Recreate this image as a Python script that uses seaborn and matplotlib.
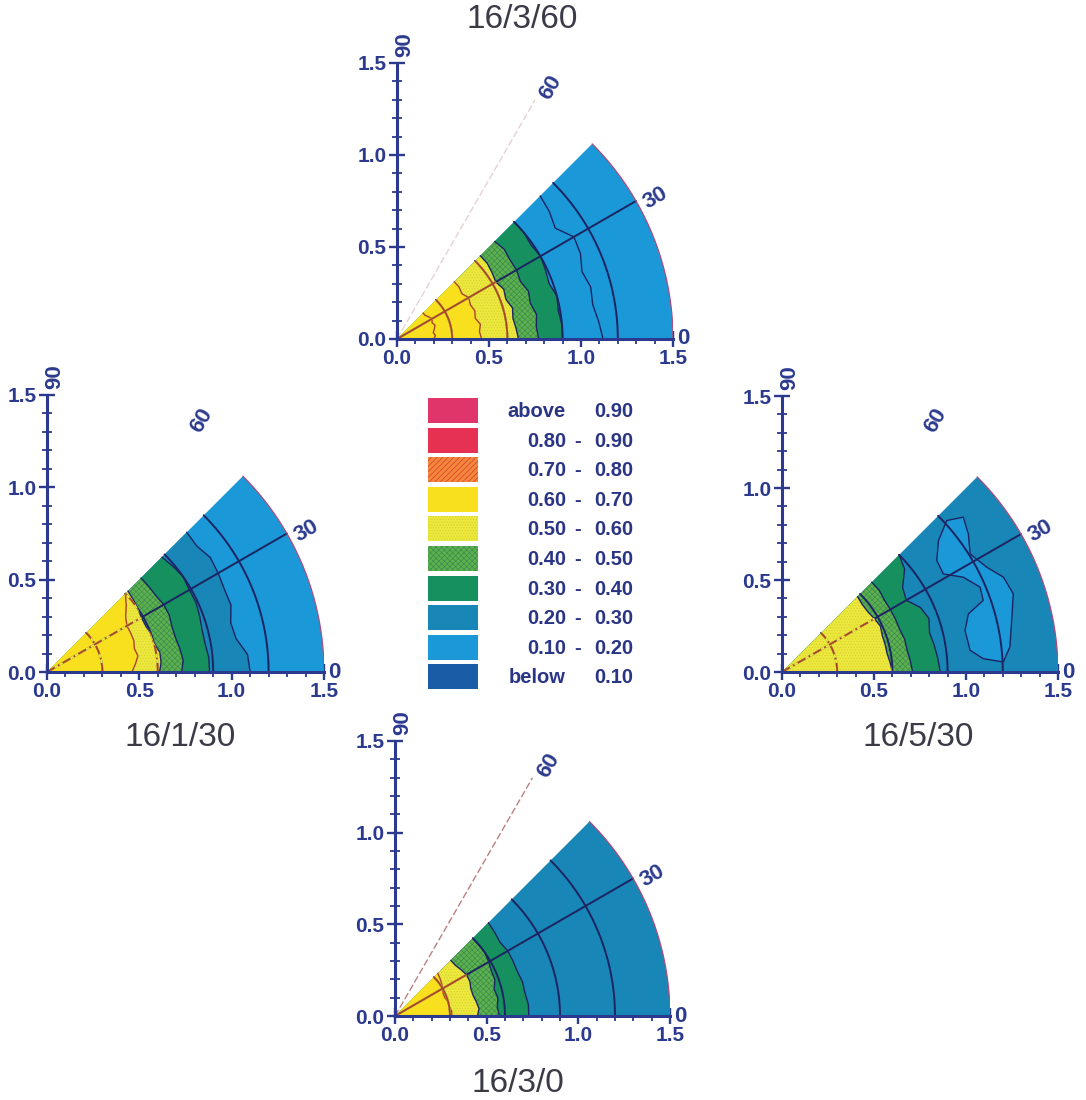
import numpy as np
import matplotlib
matplotlib.use("Agg")
import matplotlib.pyplot as plt
from matplotlib.patches import Polygon, Rectangle
from matplotlib.ticker import MultipleLocator
import seaborn as sns

sns.set_theme(style="white")
plt.rcParams["font.family"] = ["Liberation Sans", "DejaVu Sans"]
plt.rcParams["hatch.linewidth"] = 0.5

NAVY = "#2b3a8e"
INK = "#1c2462"
WARM = "#a8432c"
R_MAX = 1.5

# ---- contour classes (highest first) ----
CLASS_KEYS = ["gt90", "80-90", "70-80", "60-70", "50-60", "40-50", "30-40", "20-30", "10-20", "lt10"]
CLASS_LOW = ["above", "0.80", "0.70", "0.60", "0.50", "0.40", "0.30", "0.20", "0.10", "below"]
CLASS_HIGH = ["0.90", "0.90", "0.80", "0.70", "0.60", "0.50", "0.40", "0.30", "0.20", "0.10"]
CLASS_COLORS = ["#e0356b", "#e63152", "#f2873e", "#f8e01e", "#ece83c", "#5fb04e",
                "#16905e", "#1886b6", "#1a98d8", "#1a5ca6"]
CLASS_HATCH = [None, None, "//////", None, "......", "xxxxxx", None, None, None, None]
CLASS_HATCH_COLORS = [None, None, "#de3a2a", None, "#d8d034", "#3a8e4c", None, None, None, None]

# sampling angles (degrees) for the contour boundaries
ANGLES = [0, 5, 10, 15, 20, 25, 30, 35, 40, 45]

# ---- 16/3/60 ----
TOP_R70 = [0.20, 0.21, 0.20, 0.21, 0.22, 0.21, 0.22, 0.21, 0.20, 0.20]
TOP_R60 = [0.46, 0.45, 0.46, 0.44, 0.45, 0.44, 0.45, 0.43, 0.44, 0.44]
TOP_R50 = [0.66, 0.65, 0.64, 0.65, 0.63, 0.64, 0.62, 0.63, 0.64, 0.64]
TOP_R40 = [0.77, 0.76, 0.77, 0.75, 0.76, 0.74, 0.75, 0.75, 0.76, 0.75]
TOP_R30 = [0.90, 0.90, 0.89, 0.90, 0.88, 0.89, 0.90, 0.89, 0.90, 0.90]
TOP_R20 = [1.12, 1.10, 1.08, 1.09, 1.07, 1.10, 1.11, 1.05, 1.08, 1.10]

# ---- 16/1/30 ----
LEFT_R60 = [0.46, 0.48, 0.50, 0.49, 0.50, 0.50, 0.50, 0.52, 0.56, 0.60]
LEFT_R50 = [0.61, 0.62, 0.62, 0.60, 0.60, 0.59, 0.59, 0.60, 0.61, 0.62]
LEFT_R40 = [0.73, 0.74, 0.73, 0.72, 0.72, 0.73, 0.73, 0.72, 0.72, 0.72]
LEFT_R30 = [0.88, 0.88, 0.87, 0.87, 0.88, 0.89, 0.89, 0.90, 0.89, 0.88]
LEFT_R20 = [1.10, 1.09, 1.04, 1.03, 1.06, 1.06, 1.07, 1.08, 1.06, 1.07]

# ---- 16/5/30 ----
RIGHT_R50 = [0.60, 0.59, 0.58, 0.58, 0.58, 0.59, 0.58, 0.57, 0.57, 0.58]
RIGHT_R40 = [0.71, 0.70, 0.69, 0.69, 0.68, 0.68, 0.68, 0.68, 0.69, 0.69]
RIGHT_R30 = [0.86, 0.85, 0.84, 0.83, 0.85, 0.83, 0.78, 0.80, 0.87, 0.90]
RIGHT_ISLAND_ANG = [42.6, 40.5, 36.5, 32.1, 27.1, 23.2, 18.7, 12.6, 6.3, 2.6,
                    3.8, 6.6, 12.8, 17.3, 19.6, 23.2, 27.6, 31.3, 35.8, 40.0]
RIGHT_ISLAND_R = [1.216, 1.296, 1.260, 1.207, 1.250, 1.309, 1.327, 1.279, 1.246, 1.204,
                  1.096, 1.029, 1.020, 1.061, 1.161, 1.171, 1.112, 1.026, 1.037, 1.110]

# ---- 16/3/0 ----
BOT_R60 = [0.31, 0.31, 0.30, 0.30, 0.29, 0.29, 0.30, 0.31, 0.32, 0.33]
BOT_R50 = [0.45, 0.46, 0.45, 0.44, 0.44, 0.45, 0.45, 0.44, 0.43, 0.43]
BOT_R40 = [0.57, 0.56, 0.57, 0.56, 0.58, 0.58, 0.59, 0.60, 0.60, 0.60]
BOT_R30 = [0.73, 0.73, 0.72, 0.72, 0.71, 0.71, 0.71, 0.70, 0.71, 0.72]

GRID_RADII = [0.3, 0.6, 0.9, 1.2]
ANGLE_MARKS = [0, 30, 60, 90]
TICKS = [0.0, 0.5, 1.0, 1.5]

PANELS = [
    dict(title="16/3/60", origin=(397, 339), size=276, title_xy=(522, 20),
         outer="10-20",
         fills=[("30-40", TOP_R30), ("40-50", TOP_R40), ("50-60", TOP_R50), ("60-70", TOP_R60)],
         lines=[(TOP_R20, False), (TOP_R70, True)],
         island=None, ray60=0.30, warm_ls="-"),
    dict(title="16/1/30", origin=(47, 672), size=277, title_xy=(180, 738),
         outer="10-20",
         fills=[("20-30", LEFT_R20), ("30-40", LEFT_R30), ("40-50", LEFT_R40),
                ("50-60", LEFT_R50), ("60-70", LEFT_R60)],
         lines=[], island=None, ray60=0.0, warm_ls=(0, (5, 2, 1, 2))),
    dict(title="16/5/30", origin=(782, 672), size=276, title_xy=(918, 738),
         outer="20-30",
         fills=[("30-40", RIGHT_R30), ("40-50", RIGHT_R40), ("50-60", RIGHT_R50)],
         lines=[], island=("10-20", RIGHT_ISLAND_ANG, RIGHT_ISLAND_R),
         ray60=0.0, warm_ls=(0, (5, 2, 1, 2))),
    dict(title="16/3/0", origin=(395, 1016), size=275, title_xy=(518, 1083),
         outer="20-30",
         fills=[("30-40", BOT_R30), ("40-50", BOT_R40), ("50-60", BOT_R50), ("60-70", BOT_R60)],
         lines=[], island=None, ray60=0.85, warm_ls="-"),
]

FIG_W, FIG_H = 1086, 1100
fig = plt.figure(figsize=(FIG_W / 100, FIG_H / 100), dpi=100)
fig.patch.set_facecolor("white")


def polar_xy(radii, angles):
    a = np.radians(np.asarray(angles, dtype=float))
    r = np.asarray(radii, dtype=float)
    return r * np.cos(a), r * np.sin(a)


def add_region(ax, xs, ys, key, z=1):
    i = CLASS_KEYS.index(key)
    hatch = CLASS_HATCH[i]
    patch = Polygon(np.column_stack([xs, ys]), closed=True,
                    facecolor=CLASS_COLORS[i],
                    edgecolor=CLASS_HATCH_COLORS[i] if hatch else "none",
                    hatch=hatch, linewidth=0, zorder=z)
    ax.add_patch(patch)
    return patch


def draw_panel(panel):
    x0, y0 = panel["origin"]
    s = panel["size"]
    ax = fig.add_axes([x0 / FIG_W, 1 - y0 / FIG_H, s / FIG_W, s / FIG_H])
    ax.set_xlim(0, R_MAX)
    ax.set_ylim(0, R_MAX)
    ax.set_facecolor("none")

    fine = np.linspace(0, 45, 181)
    wx, wy = polar_xy(np.full_like(fine, R_MAX), fine)
    add_region(ax, np.r_[0, wx], np.r_[0, wy], panel["outer"])

    warm_clip = None
    for key, radii in panel["fills"]:
        bx, by = polar_xy(radii, ANGLES)
        patch = add_region(ax, np.r_[0, bx], np.r_[0, by], key)
        if key == "50-60":
            warm_clip = patch

    if panel["island"] is not None:
        key, ang, rad = panel["island"]
        ix, iy = polar_xy(rad, ang)
        add_region(ax, ix, iy, key, z=1.2)
        ax.plot(np.r_[ix, ix[0]], np.r_[iy, iy[0]], color=INK, lw=1.0, zorder=3)

    # contour boundaries
    for key, radii in panel["fills"]:
        bx, by = polar_xy(radii, ANGLES)
        warm = key == "60-70"
        ax.plot(bx, by, color=WARM if warm else INK, lw=1.0, zorder=3)
    for radii, warm in panel["lines"]:
        bx, by = polar_xy(radii, ANGLES)
        ax.plot(bx, by, color=WARM if warm else INK, lw=1.0, zorder=3)

    # polar grid: arcs and the 30 degree ray
    grid = []
    for r in GRID_RADII:
        gx, gy = polar_xy(np.full_like(fine, r), fine)
        grid.append((gx, gy))
    grid.append(polar_xy([0, R_MAX], [30, 30]))
    for gx, gy in grid:
        ax.plot(gx, gy, color=INK, lw=1.4, zorder=4)
        if warm_clip is not None:
            wbg, = ax.plot(gx, gy, color=CLASS_COLORS[CLASS_KEYS.index("50-60")],
                           lw=1.6, zorder=4.4)
            wbg.set_clip_path(warm_clip)
            ln, = ax.plot(gx, gy, color=WARM, lw=1.3, zorder=4.5, ls=panel["warm_ls"])
            ln.set_clip_path(warm_clip)

    # outer rim of the sector
    ox, oy = polar_xy(np.full_like(fine, R_MAX), fine)
    ax.plot(ox, oy, color="#b04a7a", lw=0.9, zorder=4)

    # 60 degree ray
    if panel["ray60"] > 0:
        rx, ry = polar_xy([0, R_MAX], [60, 60])
        ax.plot(rx, ry, color="#b06a6a", lw=1.0, ls=(0, (5, 2)),
                alpha=panel["ray60"], zorder=4)

    # angle labels
    for a in ANGLE_MARKS:
        r_lab = 1.555 if a == 0 else 1.6
        lx, ly = polar_xy([r_lab], [a - 1.5 if a > 0 else a])
        ax.text(lx[0], ly[0], str(a), rotation=a, ha="center", va="center",
                rotation_mode="anchor", fontsize=16, fontweight="bold",
                color=NAVY, clip_on=False, zorder=6)

    sns.despine(ax=ax)
    for side in ("left", "bottom"):
        ax.spines[side].set_color(NAVY)
        ax.spines[side].set_linewidth(2.2)
        ax.spines[side].set_zorder(5)
    ax.set_xticks(TICKS)
    ax.set_yticks(TICKS)
    ax.set_xticklabels([f"{t:.1f}" for t in TICKS])
    ax.set_yticklabels([f"{t:.1f}" for t in TICKS])
    ax.xaxis.set_minor_locator(MultipleLocator(0.1))
    ax.yaxis.set_minor_locator(MultipleLocator(0.1))
    ax.tick_params(which="both", bottom=True, left=True, direction="inout",
                   color=NAVY, labelcolor=NAVY)
    ax.tick_params(which="major", length=11, width=1.7, pad=2, labelsize=15)
    ax.tick_params(which="minor", length=7, width=1.3)
    for lab in ax.get_xticklabels() + ax.get_yticklabels():
        lab.set_fontweight("bold")
    ax.grid(False)

    tx, ty = panel["title_xy"]
    fig.text(tx / FIG_W, 1 - ty / FIG_H, panel["title"], ha="center", va="center",
             fontsize=24, color="#3b3b48")


for p in PANELS:
    draw_panel(p)

# ---- class legend ----
leg = fig.add_axes([0, 0, 1, 1])
leg.set_xlim(0, FIG_W)
leg.set_ylim(FIG_H, 0)
leg.axis("off")
leg.set_facecolor("none")
row_top, row_step, sw_w, sw_h = 398, 29.6, 50, 25
for i, key in enumerate(CLASS_KEYS):
    y = row_top + i * row_step
    leg.add_patch(Rectangle((428, y), sw_w, sw_h, facecolor=CLASS_COLORS[i],
                            edgecolor=CLASS_HATCH_COLORS[i] if CLASS_HATCH[i] else "none",
                            hatch=CLASS_HATCH[i], linewidth=0))
    yc = y + sw_h / 2 + 1
    style = dict(fontsize=14.5, fontweight="bold", color="#2b3585", va="center")
    leg.text(566, yc, CLASS_LOW[i], ha="right", **style)
    if CLASS_LOW[i] not in ("above", "below"):
        leg.text(578, yc, "-", ha="center", **style)
    leg.text(594, yc, CLASS_HIGH[i], ha="left", **style)

fig.savefig("out.png", dpi=100, facecolor="white")
